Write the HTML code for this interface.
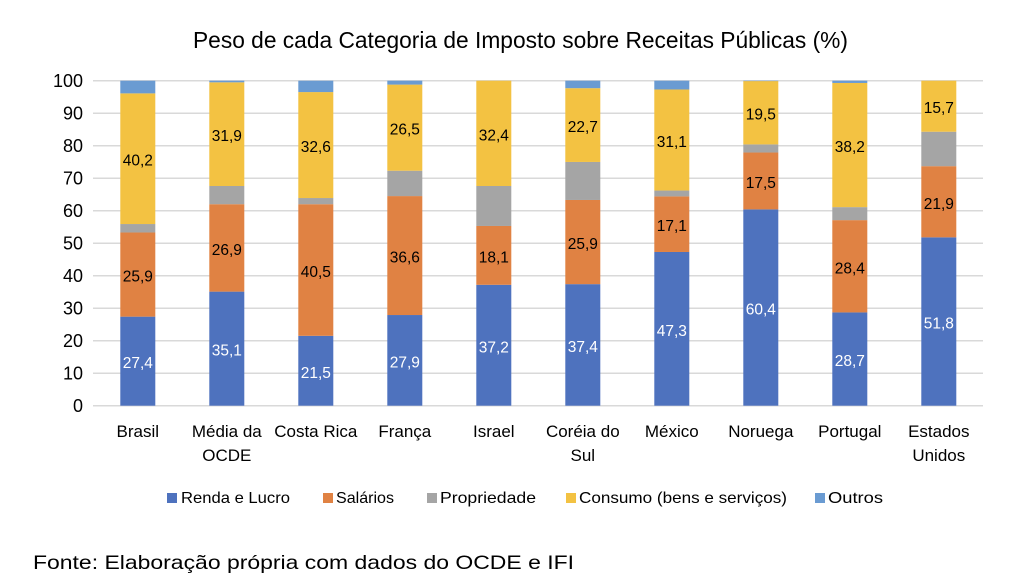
<!DOCTYPE html>
<html>
<head>
<meta charset="utf-8">
<style>
  html, body { margin:0; padding:0; background:#fff; }
  svg { display:block; }
  text { font-family: "Liberation Sans", sans-serif; fill:#000; }
</style>
</head>
<body>
<svg width="1024" height="585" viewBox="0 0 1024 585" xmlns="http://www.w3.org/2000/svg">
  <rect x="0" y="0" width="1024" height="585" fill="#fff"/>

  <!-- Title -->
  <text x="193" y="48" font-size="23" textLength="655" lengthAdjust="spacingAndGlyphs">Peso de cada Categoria de Imposto sobre Receitas Públicas (%)</text>

  <!-- Gridlines -->
  <g stroke="#d9d9d9" stroke-width="1.5">
    <line x1="93" x2="983" y1="80.7" y2="80.7"/>
    <line x1="93" x2="983" y1="113.2" y2="113.2"/>
    <line x1="93" x2="983" y1="145.7" y2="145.7"/>
    <line x1="93" x2="983" y1="178.2" y2="178.2"/>
    <line x1="93" x2="983" y1="210.7" y2="210.7"/>
    <line x1="93" x2="983" y1="243.2" y2="243.2"/>
    <line x1="93" x2="983" y1="275.7" y2="275.7"/>
    <line x1="93" x2="983" y1="308.2" y2="308.2"/>
    <line x1="93" x2="983" y1="340.7" y2="340.7"/>
    <line x1="93" x2="983" y1="373.2" y2="373.2"/>
    <line x1="93" x2="983" y1="405.7" y2="405.7"/>
  </g>

  <!-- Y tick labels -->
  <g font-size="18" text-anchor="end">
    <text x="83" y="87.2">100</text>
    <text x="83" y="119.7">90</text>
    <text x="83" y="152.2">80</text>
    <text x="83" y="184.7">70</text>
    <text x="83" y="217.2">60</text>
    <text x="83" y="249.7">50</text>
    <text x="83" y="282.2">40</text>
    <text x="83" y="314.7">30</text>
    <text x="83" y="347.2">20</text>
    <text x="83" y="379.7">10</text>
    <text x="83" y="412.2">0</text>
  </g>

  <!-- Bars -->
  <g>
    <rect x="120.3" y="316.65" width="35" height="89.05" fill="#4e72be"/>
    <rect x="120.3" y="232.475" width="35" height="84.175" fill="#e08243"/>
    <rect x="120.3" y="224.025" width="35" height="8.45" fill="#a5a5a5"/>
    <rect x="120.3" y="93.375" width="35" height="130.65" fill="#f3c242"/>
    <rect x="120.3" y="80.7" width="35" height="12.675" fill="#6a9bd2"/>
  </g>
  <g>
    <rect x="209.3" y="291.625" width="35" height="114.075" fill="#4e72be"/>
    <rect x="209.3" y="204.2" width="35" height="87.425" fill="#e08243"/>
    <rect x="209.3" y="186" width="35" height="18.2" fill="#a5a5a5"/>
    <rect x="209.3" y="82.325" width="35" height="103.675" fill="#f3c242"/>
    <rect x="209.3" y="80.7" width="35" height="1.625" fill="#6a9bd2"/>
  </g>
  <g>
    <rect x="298.3" y="335.825" width="35" height="69.875" fill="#4e72be"/>
    <rect x="298.3" y="204.2" width="35" height="131.625" fill="#e08243"/>
    <rect x="298.3" y="198.025" width="35" height="6.175" fill="#a5a5a5"/>
    <rect x="298.3" y="92.075" width="35" height="105.95" fill="#f3c242"/>
    <rect x="298.3" y="80.7" width="35" height="11.375" fill="#6a9bd2"/>
  </g>
  <g>
    <rect x="387.3" y="315.025" width="35" height="90.675" fill="#4e72be"/>
    <rect x="387.3" y="196.075" width="35" height="118.95" fill="#e08243"/>
    <rect x="387.3" y="170.725" width="35" height="25.35" fill="#a5a5a5"/>
    <rect x="387.3" y="84.6" width="35" height="86.125" fill="#f3c242"/>
    <rect x="387.3" y="80.7" width="35" height="3.9" fill="#6a9bd2"/>
  </g>
  <g>
    <rect x="476.3" y="284.8" width="35" height="120.9" fill="#4e72be"/>
    <rect x="476.3" y="225.975" width="35" height="58.825" fill="#e08243"/>
    <rect x="476.3" y="186" width="35" height="39.975" fill="#a5a5a5"/>
    <rect x="476.3" y="80.7" width="35" height="105.3" fill="#f3c242"/>
  </g>
  <g>
    <rect x="565.3" y="284.15" width="35" height="121.55" fill="#4e72be"/>
    <rect x="565.3" y="199.975" width="35" height="84.175" fill="#e08243"/>
    <rect x="565.3" y="161.95" width="35" height="38.025" fill="#a5a5a5"/>
    <rect x="565.3" y="88.175" width="35" height="73.775" fill="#f3c242"/>
    <rect x="565.3" y="80.7" width="35" height="7.475" fill="#6a9bd2"/>
  </g>
  <g>
    <rect x="654.3" y="251.975" width="35" height="153.725" fill="#4e72be"/>
    <rect x="654.3" y="196.4" width="35" height="55.575" fill="#e08243"/>
    <rect x="654.3" y="190.55" width="35" height="5.85" fill="#a5a5a5"/>
    <rect x="654.3" y="89.475" width="35" height="101.075" fill="#f3c242"/>
    <rect x="654.3" y="80.7" width="35" height="8.775" fill="#6a9bd2"/>
  </g>
  <g>
    <rect x="743.3" y="209.4" width="35" height="196.3" fill="#4e72be"/>
    <rect x="743.3" y="152.525" width="35" height="56.875" fill="#e08243"/>
    <rect x="743.3" y="144.4" width="35" height="8.125" fill="#a5a5a5"/>
    <rect x="743.3" y="81.025" width="35" height="63.375" fill="#f3c242"/>
    <rect x="743.3" y="80.7" width="35" height="0.4" fill="#6a9bd2"/>
  </g>
  <g>
    <rect x="832.3" y="312.425" width="35" height="93.275" fill="#4e72be"/>
    <rect x="832.3" y="220.125" width="35" height="92.3" fill="#e08243"/>
    <rect x="832.3" y="207.125" width="35" height="13" fill="#a5a5a5"/>
    <rect x="832.3" y="82.975" width="35" height="124.15" fill="#f3c242"/>
    <rect x="832.3" y="80.7" width="35" height="2.275" fill="#6a9bd2"/>
  </g>
  <g>
    <rect x="921.3" y="237.35" width="35" height="168.35" fill="#4e72be"/>
    <rect x="921.3" y="166.175" width="35" height="71.175" fill="#e08243"/>
    <rect x="921.3" y="131.725" width="35" height="34.45" fill="#a5a5a5"/>
    <rect x="921.3" y="80.7" width="35" height="51.025" fill="#f3c242"/>
  </g>

  <!-- Data labels -->
  <g font-size="15.5" text-anchor="middle">
    <text x="137.8" y="368.2" style="fill:#fff">27,4</text>
    <text x="137.8" y="281.6">25,9</text>
    <text x="137.8" y="165.7">40,2</text>

    <text x="226.8" y="355.7" style="fill:#fff">35,1</text>
    <text x="226.8" y="254.9">26,9</text>
    <text x="226.8" y="141.2">31,9</text>

    <text x="315.8" y="377.8" style="fill:#fff">21,5</text>
    <text x="315.8" y="277.0">40,5</text>
    <text x="315.8" y="152.0">32,6</text>

    <text x="404.8" y="367.4" style="fill:#fff">27,9</text>
    <text x="404.8" y="262.6">36,6</text>
    <text x="404.8" y="134.7">26,5</text>

    <text x="493.8" y="352.3" style="fill:#fff">37,2</text>
    <text x="493.8" y="262.4">18,1</text>
    <text x="493.8" y="140.4">32,4</text>

    <text x="582.8" y="351.9" style="fill:#fff">37,4</text>
    <text x="582.8" y="249.1">25,9</text>
    <text x="582.8" y="132.1">22,7</text>

    <text x="671.8" y="335.8" style="fill:#fff">47,3</text>
    <text x="671.8" y="231.2">17,1</text>
    <text x="671.8" y="147.0">31,1</text>

    <text x="760.8" y="314.6" style="fill:#fff">60,4</text>
    <text x="760.8" y="188.0">17,5</text>
    <text x="760.8" y="119.7">19,5</text>

    <text x="849.8" y="366.1" style="fill:#fff">28,7</text>
    <text x="849.8" y="273.3">28,4</text>
    <text x="849.8" y="152.1">38,2</text>

    <text x="938.8" y="328.5" style="fill:#fff">51,8</text>
    <text x="938.8" y="208.8">21,9</text>
    <text x="938.8" y="113.2">15,7</text>
  </g>

  <!-- X labels -->
  <g font-size="17" text-anchor="middle">
    <text x="137.8" y="437">Brasil</text>
    <text x="226.8" y="437">Média da</text>
    <text x="226.8" y="461">OCDE</text>
    <text x="315.8" y="437">Costa Rica</text>
    <text x="404.8" y="437">França</text>
    <text x="493.8" y="437">Israel</text>
    <text x="582.8" y="437">Coréia do</text>
    <text x="582.8" y="461">Sul</text>
    <text x="671.8" y="437">México</text>
    <text x="760.8" y="437">Noruega</text>
    <text x="849.8" y="437">Portugal</text>
    <text x="938.8" y="437">Estados</text>
    <text x="938.8" y="461">Unidos</text>
  </g>

  <!-- Legend -->
  <g font-size="16">
    <rect x="167" y="493" width="10" height="10" fill="#4e72be"/>
    <text x="181" y="503" textLength="109" lengthAdjust="spacingAndGlyphs">Renda e Lucro</text>
    <rect x="323" y="493" width="10" height="10" fill="#e08243"/>
    <text x="336" y="503" textLength="58" lengthAdjust="spacingAndGlyphs">Salários</text>
    <rect x="427" y="493" width="10" height="10" fill="#a5a5a5"/>
    <text x="440" y="503" textLength="96" lengthAdjust="spacingAndGlyphs">Propriedade</text>
    <rect x="566" y="493" width="10" height="10" fill="#f3c242"/>
    <text x="579" y="503" textLength="208" lengthAdjust="spacingAndGlyphs">Consumo (bens e serviços)</text>
    <rect x="815" y="493" width="10" height="10" fill="#6a9bd2"/>
    <text x="828" y="503" textLength="55" lengthAdjust="spacingAndGlyphs">Outros</text>
  </g>

  <!-- Footer -->
  <text x="33" y="569" font-size="19.5" textLength="541" lengthAdjust="spacingAndGlyphs">Fonte: Elaboração própria com dados do OCDE e IFI</text>
</svg>
</body>
</html>
